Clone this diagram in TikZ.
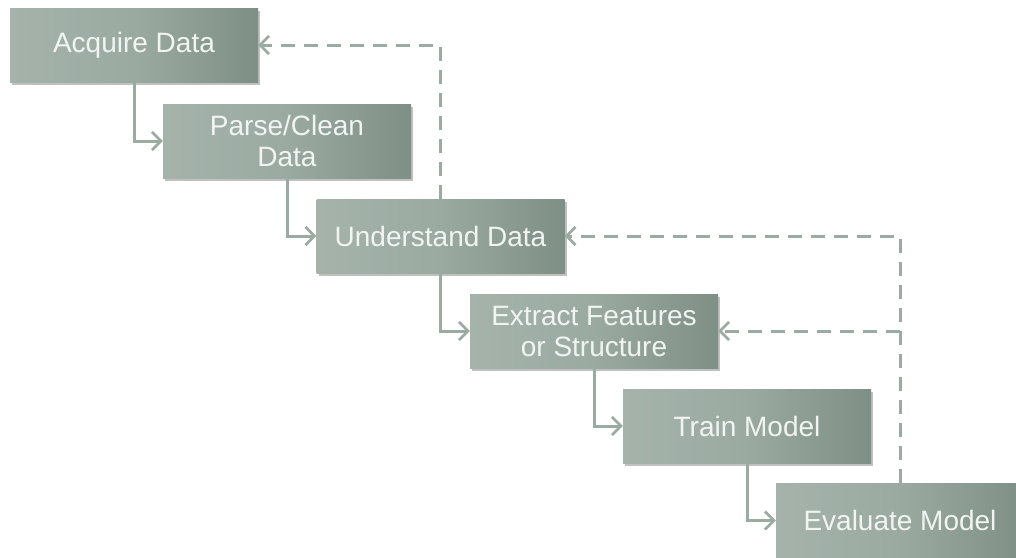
\documentclass[tikz,border=0pt]{standalone}
\usepackage{fontspec}
\setmainfont{Liberation Sans}
\usetikzlibrary{arrows.meta,shadows,calc}
\definecolor{boxlight}{HTML}{A5B3AB}
\definecolor{boxmid}{HTML}{9AAAA1}
\definecolor{boxdark}{HTML}{7E8F86}
\definecolor{linkcol}{HTML}{9AABA2}
\definecolor{labelcol}{HTML}{F2F4F1}
\tikzset{
  stage/.style={rectangle, minimum width=248pt, minimum height=74pt, inner sep=0pt,
    left color=boxlight, right color=boxdark, middle color=boxmid,
    draw=none, text=labelcol, align=center,
    font=\fontsize{28}{31}\selectfont,
    drop shadow={shadow xshift=2pt, shadow yshift=-2.5pt, opacity=0.35, fill=black!70}},
  flow/.style={draw=linkcol, line width=3pt,
    -{Straight Barb[length=9pt,width=18pt,line width=2.6pt]}},
  feedback/.style={flow, dash pattern=on 14pt off 9pt}
}
\begin{document}
\begin{tikzpicture}[x=1pt,y=-1pt]
  \fill[white] (0,0) rectangle (1016,557);
  \clip (0,0) rectangle (1016,557);

  % process stages, stepping down and to the right
  \node[stage] (acq) at (134,45)    {Acquire Data};
  \node[stage] (parse) at (287,141) {Parse/Clean\\Data};
  \node[stage] (und) at (440.5,236) {Understand Data};
  \node[stage] (ext) at (594,331)   {Extract Features\\or Structure};
  \node[stage] (train) at (747,426) {Train Model};
  \node[stage] (eval) at (900,520.5){Evaluate Model};

  % forward flow
  \draw[flow] (acq.south) |- (parse.west);
  \draw[flow] (parse.south) |- (und.west);
  \draw[flow] (und.south) |- (ext.west);
  \draw[flow] (ext.south) |- (train.west);
  \draw[flow] (train.south) |- (eval.west);

  % feedback loops
  \draw[feedback] (und.north) |- (acq.east);
  \draw[feedback] (eval.north) |- (und.east);
  \coordinate (branch) at (eval.north |- ext.east);
  \draw[feedback] (branch) -- (ext.east);
\end{tikzpicture}
\end{document}
